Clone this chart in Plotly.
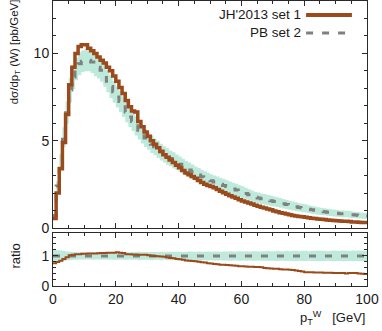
import plotly.graph_objects as go

# bin edges: 1 GeV bins from 0 to 100
bin_edges = list(range(0, 101))

# JH'2013 set 1  (dsigma/dpT, pb/GeV)
jh = [0.55, 2.0, 3.4, 4.9, 6.5, 8.2, 9.2, 10.0, 10.4, 10.5,
      10.5, 10.3, 10.15, 10.0, 9.8, 9.6, 9.45, 9.2, 9.0, 8.7,
      8.4, 8.05, 7.7, 7.3, 6.95, 6.7, 6.65, 6.1, 5.8, 5.5,
      5.25, 5.0, 4.8, 4.6, 4.4, 4.2, 4.05, 3.9, 3.75, 3.6,
      3.45, 3.3, 3.15, 3.05, 2.95, 2.85, 2.72, 2.6, 2.5, 2.44,
      2.38, 2.3, 2.2, 2.1, 2.02, 1.93, 1.85, 1.78, 1.7, 1.62,
      1.55, 1.49, 1.43, 1.37, 1.31, 1.25, 1.19, 1.14, 1.09, 1.04,
      0.98, 0.93, 0.88, 0.84, 0.8, 0.76, 0.72, 0.69, 0.66, 0.64,
      0.62, 0.59, 0.56, 0.54, 0.52, 0.5, 0.48, 0.46, 0.44, 0.43,
      0.41, 0.40, 0.39, 0.38, 0.37, 0.35, 0.34, 0.33, 0.32, 0.31]

# PB set 2 central values
pb = [0.72, 2.4, 3.8, 5.2, 6.6, 7.9, 8.65, 9.1, 9.4, 9.55,
      9.6, 9.6, 9.5, 9.35, 9.2, 9.03, 8.75, 8.4, 8.1, 7.8,
      7.5, 7.25, 6.95, 6.65, 6.35, 6.1, 5.85, 5.6, 5.38, 5.16,
      4.98, 4.8, 4.65, 4.5, 4.35, 4.22, 4.1, 3.98, 3.87, 3.76,
      3.65, 3.53, 3.42, 3.32, 3.22, 3.12, 3.03, 2.94, 2.85, 2.77,
      2.7, 2.63, 2.56, 2.5, 2.43, 2.37, 2.3, 2.24, 2.17, 2.1,
      2.04, 1.97, 1.9, 1.83, 1.76, 1.72, 1.68, 1.64, 1.6, 1.56,
      1.52, 1.48, 1.44, 1.39, 1.34, 1.3, 1.26, 1.22, 1.18, 1.15,
      1.12, 1.08, 1.04, 1.01, 0.98, 0.95, 0.93, 0.9, 0.88, 0.86,
      0.84, 0.82, 0.81, 0.8, 0.78, 0.76, 0.74, 0.72, 0.7, 0.69]

# PB set 2 relative uncertainty (band), upper panel
pb_err = [0.12, 0.12, 0.11, 0.11, 0.10, 0.09, 0.08, 0.07, 0.07, 0.065,
          0.065, 0.065, 0.065, 0.07, 0.07, 0.072, 0.075, 0.075, 0.08, 0.08,
          0.08, 0.085, 0.085, 0.09, 0.088, 0.09, 0.095, 0.095, 0.1, 0.1,
          0.1, 0.105, 0.103, 0.11, 0.11, 0.11, 0.115, 0.113, 0.12, 0.12,
          0.12, 0.125, 0.123, 0.13, 0.13, 0.128, 0.135, 0.135, 0.14, 0.14,
          0.14, 0.145, 0.15, 0.148, 0.155, 0.155, 0.16, 0.158, 0.165, 0.165,
          0.17, 0.168, 0.17, 0.175, 0.175, 0.18, 0.178, 0.185, 0.185, 0.19,
          0.19, 0.188, 0.195, 0.195, 0.2, 0.198, 0.2, 0.205, 0.205, 0.21,
          0.21, 0.208, 0.215, 0.215, 0.22, 0.218, 0.22, 0.225, 0.225, 0.23,
          0.23, 0.228, 0.235, 0.235, 0.24, 0.238, 0.24, 0.245, 0.245, 0.25]

# ratio panel: JH / PB
ratio_jh = [0.76, 0.8, 0.84, 0.9, 0.96, 1.02, 1.04, 1.06, 1.06, 1.07,
            1.07, 1.08, 1.08, 1.08, 1.09, 1.1, 1.1, 1.11, 1.11, 1.11,
            1.12, 1.11, 1.1, 1.06, 1.06, 1.05, 1.05, 1.04, 1.04, 1.04,
            1.02, 1.01, 1.0, 0.99, 0.98, 0.97, 0.95, 0.93, 0.92, 0.9,
            0.89, 0.87, 0.85, 0.84, 0.83, 0.82, 0.81, 0.79, 0.78, 0.76,
            0.75, 0.73, 0.72, 0.71, 0.71, 0.7, 0.69, 0.68, 0.67, 0.66,
            0.66, 0.65, 0.64, 0.64, 0.63, 0.63, 0.62, 0.6, 0.59, 0.58,
            0.57, 0.57, 0.56, 0.55, 0.55, 0.54, 0.53, 0.52, 0.5, 0.48,
            0.46, 0.46, 0.46, 0.45, 0.45, 0.45, 0.44, 0.44, 0.44, 0.43,
            0.43, 0.43, 0.43, 0.42, 0.43, 0.43, 0.43, 0.42, 0.41, 0.4]

# ratio panel: PB band half-width
ratio_err = [0.2, 0.19, 0.18, 0.17, 0.15, 0.14, 0.13, 0.13, 0.12, 0.12,
             0.12, 0.12, 0.13, 0.12, 0.12, 0.13, 0.12, 0.13, 0.12, 0.13,
             0.13, 0.12, 0.13, 0.13, 0.12, 0.13, 0.13, 0.14, 0.13, 0.13,
             0.13, 0.14, 0.13, 0.13, 0.14, 0.13, 0.14, 0.14, 0.13, 0.14,
             0.14, 0.13, 0.14, 0.15, 0.14, 0.14, 0.15, 0.14, 0.14, 0.15,
             0.14, 0.15, 0.15, 0.14, 0.15, 0.15, 0.16, 0.15, 0.15, 0.16,
             0.15, 0.16, 0.15, 0.16, 0.16, 0.15, 0.16, 0.16, 0.17, 0.16,
             0.16, 0.17, 0.16, 0.16, 0.17, 0.16, 0.17, 0.17, 0.16, 0.17,
             0.17, 0.16, 0.17, 0.17, 0.18, 0.17, 0.17, 0.16, 0.17, 0.18,
             0.17, 0.17, 0.18, 0.17, 0.17, 0.18, 0.17, 0.18, 0.17, 0.17]

series_names = ["JH'2013 set 1", "PB set 2"]

BROWN = "#9b4a1c"
GRAY = "#808080"
BAND = "#bdeadb"
AX = "#2a2a2a"
FONT = "Liberation Sans, Arial, Helvetica, sans-serif"
DASH = "7px,9px"


def steps(vals):
    return vals + [vals[-1]]


x = bin_edges
pb_lo = [v * (1 - e) for v, e in zip(pb, pb_err)]
pb_hi = [v * (1 + e) for v, e in zip(pb, pb_err)]
r_lo = [1 - e for e in ratio_err]
r_hi = [1 + e for e in ratio_err]
r_pb = [1.0 for _ in ratio_err]

fig = go.Figure()

# upper panel band
fig.add_trace(go.Scatter(x=x, y=steps(pb_lo), mode="lines", line=dict(width=0, shape="hv", color=BAND),
                         showlegend=False, hoverinfo="skip", xaxis="x", yaxis="y"))
fig.add_trace(go.Scatter(x=x, y=steps(pb_hi), mode="lines", line=dict(width=0, shape="hv", color=BAND),
                         fill="tonexty", fillcolor=BAND, showlegend=False, hoverinfo="skip", xaxis="x", yaxis="y"))
fig.add_trace(go.Scatter(x=x, y=steps(pb), mode="lines", name=series_names[1],
                         line=dict(width=3, shape="hv", color=GRAY, dash=DASH),
                         showlegend=False, xaxis="x", yaxis="y"))
fig.add_trace(go.Scatter(x=x, y=steps(jh), mode="lines", name=series_names[0],
                         line=dict(width=3.5, shape="hv", color=BROWN),
                         showlegend=False, xaxis="x", yaxis="y"))

# ratio panel
fig.add_trace(go.Scatter(x=x, y=steps(r_lo), mode="lines", line=dict(width=0, shape="hv", color=BAND),
                         showlegend=False, hoverinfo="skip", xaxis="x2", yaxis="y2"))
fig.add_trace(go.Scatter(x=x, y=steps(r_hi), mode="lines", line=dict(width=0, shape="hv", color=BAND),
                         fill="tonexty", fillcolor=BAND, showlegend=False, hoverinfo="skip", xaxis="x2", yaxis="y2"))
fig.add_trace(go.Scatter(x=x, y=steps(r_pb), mode="lines",
                         line=dict(width=3, shape="hv", color=GRAY, dash=DASH),
                         showlegend=False, xaxis="x2", yaxis="y2"))
fig.add_trace(go.Scatter(x=x, y=steps(ratio_jh), mode="lines",
                         line=dict(width=2, shape="hv", color=BROWN),
                         showlegend=False, xaxis="x2", yaxis="y2"))

axis_common = dict(
    showgrid=False, zeroline=False, showline=True, linecolor=AX, linewidth=1,
    mirror="allticks", ticks="inside", ticklen=5, tickcolor=AX, tickwidth=1,
    tickfont=dict(family=FONT, size=14, color="#1a1a1a"),
)

fig.update_layout(
    width=382, height=331,
    margin=dict(l=53, r=15, t=1, b=45),
    paper_bgcolor="white", plot_bgcolor="white",
    font=dict(family=FONT, size=13, color="#1a1a1a"),
    showlegend=False,
    xaxis=dict(domain=[0, 1], range=[0, 100], anchor="y", dtick=20, tick0=0,
               showticklabels=False,
               minor=dict(dtick=5, ticklen=3, ticks="inside", tickcolor=AX), **axis_common),
    yaxis=dict(domain=[0.2035, 1], range=[0, 13], anchor="x", tickvals=[0, 5, 10],
               minor=dict(dtick=1, ticklen=3, ticks="inside", tickcolor=AX), **axis_common),
    xaxis2=dict(domain=[0, 1], range=[0, 100], anchor="y2", dtick=20, tick0=0,
                minor=dict(dtick=5, ticklen=3, ticks="inside", tickcolor=AX), **axis_common),
    yaxis2=dict(domain=[0, 0.1877], range=[0, 1.78], anchor="x2", tickvals=[0, 1],
                minor=dict(dtick=0.2, ticklen=3, ticks="inside", tickcolor=AX), **axis_common),
)

# axis titles
fig.add_annotation(text="dσ/dp<sub>T</sub> (W) [pb/GeV]", xref="paper", yref="paper",
                   x=-0.121, y=0.82, textangle=-90, showarrow=False,
                   xanchor="center", yanchor="middle", font=dict(family=FONT, size=11.5))
fig.add_annotation(text="ratio", xref="paper", yref="paper",
                   x=-0.121, y=0.1035, textangle=-90, showarrow=False,
                   xanchor="center", yanchor="middle", font=dict(family=FONT, size=13))
fig.add_annotation(text="p<sub>T</sub><sup>W</sup>   [GeV]", xref="paper", yref="paper",
                   x=1.0, y=-0.112, showarrow=False,
                   xanchor="right", yanchor="middle", font=dict(family=FONT, size=13))

# gnuplot-style key: text then sample
fig.add_annotation(text=series_names[0], xref="paper", yref="paper", x=0.796, y=0.951,
                   showarrow=False, xanchor="right", yanchor="middle", font=dict(family=FONT, size=13.5))
fig.add_annotation(text=series_names[1], xref="paper", yref="paper", x=0.796, y=0.888,
                   showarrow=False, xanchor="right", yanchor="middle", font=dict(family=FONT, size=13.5))
fig.add_shape(type="line", xref="paper", yref="paper", x0=0.806, x1=0.952, y0=0.951, y1=0.951,
              line=dict(color=BROWN, width=4))
fig.add_shape(type="line", xref="paper", yref="paper", x0=0.806, x1=0.952, y0=0.888, y1=0.888,
              line=dict(color=GRAY, width=3, dash=DASH))

fig.write_html(
    "out.html",
    config={"displayModeBar": False},
    post_script="document.body.style.margin='0';document.body.style.padding='0';"
                "document.documentElement.style.overflow='hidden';",
)
